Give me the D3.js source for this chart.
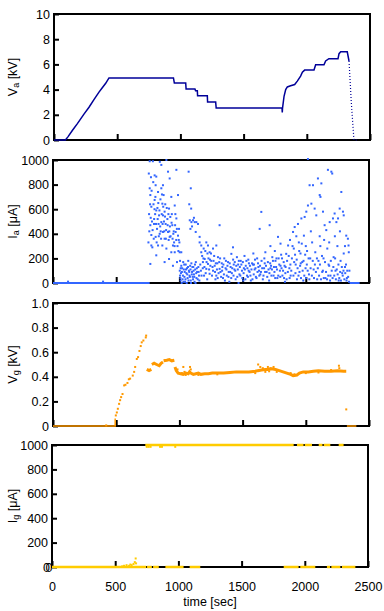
<!DOCTYPE html>
<html>
<head>
<meta charset="utf-8">
<script src="https://cdn.jsdelivr.net/npm/d3@7"></script>
<style>
  body { margin: 0; background: #fff; }
  svg { display: block; font-family: "Liberation Sans", Arial, sans-serif; }
</style>
</head>
<body>
<svg id="chart" width="384" height="611"></svg>
<script>
// time axis shared by all four panels
var timeTicks = [0, 500, 1000, 1500, 2000, 2500];

// panel 1 : anode voltage Va [kV]  (time, kV)
var vaLine = [[0,0],[90,0],[110,0.25],[145,0.75],[185,1.3],[237,2.05],[277,2.6],[316,3.2],[356,3.8],[382,4.15],[409,4.5],[435,4.93],
  [945,4.93],[952,4.53],[1042,4.53],[1045,4.05],[1115,4.05],[1120,3.9],[1134,3.9],[1136,3.52],[1213,3.52],[1215,3.01],[1279,3.01],
  [1283,2.53],[1804,2.53],[1806,2.19],[1808,2.53],[1820,3.47],[1833,4.0],[1846,4.21],[1872,4.3],[1904,4.4],[1925,4.67],[1951,5.07],
  [1965,5.39],[1983,5.55],[2057,5.55],[2070,5.97],[2136,5.97],[2149,6.27],[2175,6.45],[2247,6.45],[2255,6.85],[2268,7.0],[2320,7.0],[2334,6.27]];
var vaDrop = [[2334,6.27],[2352,3.0],[2373,0],[2400,0]];

// panel 2 : anode current Ia [uA]  (time, uA)
var iaBase = [[0,765],[2347,2426]];
var iaPoints = [[119,11],[396,11],
  [765,990],[790,990],[845,985],[897,1000],[765,770],[770,715],[778,620],[783,500],[770,470],[778,390],[778,305],[786,290],[770,155],
  [804,875],[817,865],[812,795],[831,740],[804,675],[817,590],[839,550],[799,480],[823,440],[812,375],[844,400],[831,305],[817,225],
  [857,960],[870,795],[857,770],[875,715],[865,645],[883,580],[870,550],[857,495],[891,480],[870,415],[883,360],[865,305],[897,280],[883,170],
  [910,905],[923,850],[936,700],[918,605],[928,537],[944,470],[910,415],[923,375],[949,305],[936,250],[918,195],[949,140],
  [976,920],[989,715],[963,630],[976,525],[997,440],[970,415],[989,385],[963,250],[1002,250],[981,170],[1015,250],
  [760,560],[762,420],[775,860],[795,640],[800,520],[808,560],[826,610],[835,480],[850,680],[852,420],[860,560],[878,500],[888,640],
  [895,430],[905,520],[915,350],[925,460],[940,560],[952,400],[958,330],[966,470],[985,300],[995,350],[1005,180],[1010,120],
  [755,330],[758,890],[768,640],[773,530],[780,750],[788,430],[793,820],[797,360],[803,600],[810,700],[815,480],[820,330],[828,520],
  [833,650],[837,380],[842,590],[848,460],[855,360],[862,720],[867,480],[872,620],[880,420],[886,540],[893,360],[900,610],[907,470],
  [913,560],[920,420],[930,380],[938,490],[946,360],[955,420],[962,300],[968,560],[975,350],[980,440],[992,260],[1000,330],
  [1005,60],[1010,20],[1015,140],[1020,90],[1025,30],[1030,170],[1035,110],[1040,50],[1045,10],[1050,150],[1055,80],[1060,120],
  [1065,40],[1070,180],[1075,100],[1080,60],[1085,140],[1090,20],[1095,160],[1100,90],[1105,50],[1110,130],[1115,70],[1120,10],
  [1125,110],[1130,170],[1135,40],[1140,90],[1150,130],[1155,60],
  [1003,100],[1008,40],[1012,80],[1018,0],[1022,120],[1028,60],[1032,10],[1038,150],[1042,90],[1048,30],[1052,110],[1058,0],[1062,70],
  [1068,130],[1072,20],[1078,90],[1083,50],[1088,110],[1092,0],[1098,70],[1103,130],[1108,30],[1112,100],[1118,50],[1123,150],[1128,0],
  [1133,80],[1138,120],[1145,30],[1152,90],[1158,20],
  [1073,905],[1078,640],[1090,770],[1093,605],[1082,510],[1095,495],[1108,510],[1121,495],[1134,495],[1147,480],[1087,440],[1129,415],
  [1160,375],[1100,460],[1115,530],
  [1160,330],[1173,305],[1192,280],[1213,330],[1226,305],[1239,250],[1266,280],[1292,305],[1318,470],[1200,195],[1226,155],[1252,180],
  [1279,140],[1305,210],[1173,250],[1186,170],[1213,115],[1239,75],[1266,100],[1292,60],[1318,115],[1180,220],[1205,260],[1230,200],
  [1250,240],[1275,220],[1300,160],[1170,100],[1195,60],[1220,30],[1245,140],[1285,30],[1310,80],
  [1165,150],[1175,60],[1185,120],[1190,200],[1198,130],[1208,80],[1215,170],[1222,240],[1235,110],[1242,190],[1258,60],[1262,130],
  [1270,180],[1282,90],[1288,160],[1297,110],[1303,40],[1315,170],
  [1325,90],[1335,160],[1345,40],[1355,200],[1365,120],[1375,60],[1385,170],[1395,10],[1405,130],[1411,237],[1424,290],[1415,80],
  [1425,190],[1435,110],[1445,30],[1455,210],[1465,150],[1475,70],[1485,180],[1495,100],[1505,20],[1515,220],[1525,140],[1535,60],
  [1545,190],[1555,90],[1565,20],[1575,160],[1585,240],[1595,110],[1605,50],[1615,200],[1625,130],[1635,440],[1640,70],[1648,578],
  [1650,180],[1660,30],[1670,120],[1680,250],[1690,90],[1700,170],[1710,20],[1714,470],[1720,300],[1725,140],[1735,210],[1745,60],
  [1755,260],[1765,130],[1775,40],[1780,375],[1785,200],[1795,100],[1800,320],[1805,230],[1815,60],[1825,170],[1835,10],[1845,237],
  [1340,130],[1390,90],[1430,150],[1470,180],[1510,120],[1550,160],[1590,150],[1630,100],[1675,160],[1720,120],[1760,180],[1800,140],[1840,130],
  [1322,200],[1330,50],[1338,100],[1348,150],[1352,70],[1360,20],[1368,180],[1372,110],[1380,140],[1388,50],[1398,160],[1402,90],
  [1410,40],[1418,120],[1428,60],[1438,170],[1442,100],[1450,140],[1458,50],[1462,110],[1468,0],[1478,130],[1482,60],[1490,150],
  [1498,40],[1502,170],[1508,80],[1518,110],[1522,30],[1530,180],[1538,120],[1542,50],[1548,100],[1558,140],[1562,60],[1570,110],
  [1578,30],[1582,150],[1588,70],[1598,190],[1602,120],[1610,40],[1618,90],[1622,160],[1632,60],[1638,140],[1645,90],[1655,120],
  [1665,60],[1672,200],[1678,90],[1685,140],[1695,50],[1705,110],[1712,80],[1718,160],[1728,60],[1732,110],[1740,180],[1748,130],
  [1752,90],[1758,40],[1768,200],[1772,110],[1782,60],[1790,150],[1798,50],[1808,120],[1812,200],[1820,100],[1828,40],[1832,140],
  [1838,80],[1848,30],
  [1860,305],[1870,120],[1880,60],[1890,200],[1899,415],[1905,280],[1912,455],[1920,150],[1930,30],[1938,480],[1945,330],[1950,90],
  [1958,240],[1965,525],[1972,170],[1980,20],[1985,385],[1991,537],[1998,120],[2004,580],[2010,260],[2017,630],[2017,1008],[2025,70],
  [2030,795],[2035,200],[2044,645],[2050,330],[2057,795],[2062,110],[2070,605],[2075,250],[2083,550],[1875,350],[1925,380],[1960,160],
  [2000,300],[2040,420],
  [1852,180],[1858,90],[1865,220],[1872,40],[1878,150],[1885,100],[1895,300],[1902,60],[1908,170],[1915,230],[1918,80],[1928,190],
  [1935,120],[1942,60],[1948,260],[1955,140],[1962,40],[1968,320],[1975,100],[1982,180],[1988,60],[1995,230],[2002,40],[2008,150],
  [2015,100],[2022,200],[2028,30],[2038,120],[2048,60],[2055,180],[2065,40],[2072,150],[2080,90],
  [2090,30],[2096,850],[2100,180],[2110,715],[2115,300],[2116,700],[2123,810],[2130,90],[2136,580],[2140,200],[2149,470],[2155,40],
  [2162,430],[2170,280],[2175,920],[2180,150],[2189,495],[2195,60],[2202,905],[2209,890],[2215,525],[2220,210],[2228,565],[2235,100],
  [2242,495],[2250,300],[2255,525],[2260,20],[2268,605],[2275,180],[2281,740],[2288,80],[2294,580],[2300,240],[2300,550],[2310,130],
  [2320,385],[2325,40],[2333,360],[2338,305],[2340,250],[2345,100],[2110,380],[2145,350],[2185,330],[2230,380],[2270,420],[2310,300],
  [2088,200],[2095,120],[2105,60],[2112,150],[2120,30],[2128,220],[2135,100],[2142,40],[2152,170],[2160,90],[2168,30],[2178,60],
  [2185,140],[2192,20],[2198,180],[2205,100],[2212,40],[2218,130],[2225,60],[2232,200],[2238,30],[2245,110],[2252,70],[2258,150],
  [2265,40],[2272,90],[2278,20],[2285,130],[2292,60],[2298,100],[2305,30],[2312,80],[2318,150],[2322,20],[2328,100],[2335,50],[2342,10]];

// panel 3 : grid voltage Vg [kV]
var vgZero = [[[0,0],[492,0],[492,0.06]], [[2325,0],[2400,0]]];
var vgRamp = [[421,0.005],[497,0.086],[505,0.11],[513,0.14],[523,0.18],[531,0.21],[539,0.235],[550,0.26],[563,0.33],[573,0.335],
  [589,0.35],[600,0.38],[610,0.385],[631,0.41],[642,0.44],[650,0.48],[663,0.545],[673,0.56],[684,0.61],[694,0.65],[702,0.68],
  [715,0.695],[734,0.72],[737,0.735],[2320,0.135]];
var vgBand = [
  [[742,0.46],[760,0.45],[778,0.46]],
  [[782,0.50],[800,0.51],[820,0.50],[840,0.49],[855,0.51],[870,0.52]],
  [[875,0.53],[900,0.535],[920,0.54],[940,0.53],[960,0.535]],
  [[965,0.48],[975,0.45],[990,0.43],[1010,0.425],[1030,0.42],[1050,0.43],[1070,0.425],[1080,0.44],[1090,0.43],[1110,0.42],[1130,0.425],
   [1150,0.43],[1170,0.42],[1200,0.425],[1230,0.425],[1260,0.43],[1300,0.43],[1350,0.43],[1400,0.435],[1450,0.44],[1500,0.44],[1550,0.44],
   [1600,0.445],[1620,0.45],[1650,0.455],[1680,0.46],[1700,0.46],[1730,0.465],[1760,0.46],[1790,0.45],[1820,0.44],[1850,0.43],[1880,0.42],
   [1900,0.41],[1930,0.415],[1950,0.43],[1980,0.44],[2020,0.44],[2060,0.445],[2100,0.45],[2150,0.445],[2200,0.445],[2250,0.45],[2300,0.445],[2320,0.445]]];
var vgScatter = [[1084,0.48],[1090,0.46],[985,0.46],[1040,0.44],[1031,0.48],[1623,0.50],[1640,0.48],[1660,0.47],[1700,0.48],[1720,0.47],
  [1745,0.48],[1680,0.44],[1710,0.445],[1600,0.43],[1770,0.44],[2262,0.49],[2265,0.47],[1880,0.43],[1910,0.42],[2000,0.43],[2100,0.435],
  [2200,0.455],[1050,0.415],[1150,0.415],[1300,0.42],[1020,0.43]];

// panel 4 : grid current Ig [uA]  (start, end, value)
var igSegments = [[0,745,0],[752,790,0],[800,845,0],[897,1041,0],[1089,1173,0],[1833,1951,0],[1964,2083,0],[2175,2200,0],[2210,2281,0],[2294,2400,0],
  [738,1912,1000],[1938,1990,1000],[2000,2057,1000],[2110,2140,1000],[2150,2202,1000],[2268,2307,1000]];
var igPoints = [[750,985],[765,985],[780,985],[855,985],[870,985],[975,985],
  [555,5],[570,10],[590,15],[610,10],[620,20],[630,15],[645,25],[655,40],[662,70],[665,30]];

var panels = [
  {top: 14,  bottom: 140, left: 54, right: 370, yMax: 10,   ticks: [0,2,4,6,8,10], labels: ["0","2","4","6","8","10"], name: "V", sub: "a", unit: " [kV]"},
  {top: 160, bottom: 283, left: 53, right: 369, yMax: 1000, ticks: [0,200,400,600,800,1000], labels: ["0","200","400","600","800","1000"], name: "I", sub: "a", unit: " [\u03bcA]"},
  {top: 303, bottom: 426, left: 53, right: 369, yMax: 1.0,  ticks: [0,0.2,0.4,0.6,0.8,1.0], labels: ["0","0.2","0.4","0.6","0.8","1.0"], name: "V", sub: "g", unit: " [kV]"},
  {top: 445, bottom: 567, left: 52, right: 368, yMax: 1000, ticks: [0,200,400,600,800,1000], labels: ["00","200","400","600","800","1000"], name: "I", sub: "g", unit: " [\u03bcA]"}
];

var svg = d3.select("#chart");
var font = "'Liberation Sans', Arial, sans-serif";

function drawFrame(p, i) {
  var x = d3.scaleLinear().domain([0, 2500]).range([p.left, p.right]);
  var y = d3.scaleLinear().domain([0, p.yMax]).range([p.bottom, p.top]);
  var g = svg.append("g");

  g.append("rect")
    .attr("x", p.left).attr("y", p.top)
    .attr("width", p.right - p.left).attr("height", p.bottom - p.top)
    .attr("fill", "none").attr("stroke", "#000").attr("stroke-width", 2);

  var ya = g.append("g")
    .attr("transform", "translate(" + p.left + ",0)")
    .call(d3.axisLeft(y).tickValues(p.ticks).tickFormat(function(d, k) { return p.labels[k]; }).tickSize(-5).tickPadding(4));
  ya.attr("font-family", null).attr("font-size", null);
  ya.select(".domain").remove();
  ya.selectAll("line").attr("stroke-width", 2);
  ya.selectAll("text").attr("font-family", font).attr("font-size", 12.5).attr("fill", "#000");
  if (i == 3) ya.selectAll("text").filter(function(d) { return d == 0; }).attr("letter-spacing", "-4.5px");

  var xa = g.append("g")
    .attr("transform", "translate(0," + p.bottom + ")")
    .call(d3.axisBottom(x).tickValues(timeTicks).tickSize(-6).tickPadding(15)
      .tickFormat(i == 3 ? d3.format("d") : function() { return ""; }));
  xa.attr("font-family", null).attr("font-size", null);
  xa.select(".domain").remove();
  xa.selectAll("line").attr("stroke-width", 2);
  xa.selectAll("text").attr("font-family", font).attr("font-size", 12.5).attr("fill", "#000");

  // rotated y label with subscript
  var cy = (p.top + p.bottom) / 2;
  var lab = g.append("text")
    .attr("transform", "translate(17," + cy + ") rotate(-90)")
    .attr("text-anchor", "middle")
    .attr("font-family", font).attr("font-size", 12.5);
  lab.append("tspan").text(p.name);
  lab.append("tspan").attr("font-size", 9).attr("dy", 2).text(p.sub);
  lab.append("tspan").attr("dy", -2).text(p.unit);

  return {x: x, y: y, g: g};
}

var f1 = drawFrame(panels[0], 0);
var f2 = drawFrame(panels[1], 1);
var f3 = drawFrame(panels[2], 2);
var f4 = drawFrame(panels[3], 3);

// Va
var vaColor = "#000099";
f1.g.append("path")
  .attr("d", d3.line().x(function(d) { return f1.x(d[0]); }).y(function(d) { return f1.y(d[1]); })(vaLine))
  .attr("fill", "none").attr("stroke", vaColor).attr("stroke-width", 1.5);
f1.g.append("path")
  .attr("d", d3.line().x(function(d) { return f1.x(d[0]); }).y(function(d) { return f1.y(d[1]); })(vaDrop))
  .attr("fill", "none").attr("stroke", vaColor).attr("stroke-width", 1.2).attr("stroke-dasharray", "1,2");

// Ia
var iaColor = "#3366ff";
f2.g.selectAll(".iabase").data(iaBase).enter().append("line")
  .attr("x1", function(d) { return f2.x(d[0]); }).attr("x2", function(d) { return f2.x(d[1]); })
  .attr("y1", f2.y(0)).attr("y2", f2.y(0))
  .attr("stroke", iaColor).attr("stroke-width", 2);
f2.g.selectAll(".ia").data(iaPoints).enter().append("rect")
  .attr("x", function(d) { return f2.x(d[0]) - 1; })
  .attr("y", function(d) { return f2.y(d[1]) - 1; })
  .attr("width", 2).attr("height", 2)
  .attr("fill", iaColor);

// Vg
var vgColor = "#ff9900";
var vgLine = d3.line().x(function(d) { return f3.x(d[0]); }).y(function(d) { return f3.y(d[1]); });
f3.g.selectAll(".vgzero").data(vgZero).enter().append("path")
  .attr("d", vgLine).attr("fill", "none").attr("stroke", vgColor).attr("stroke-width", 1.5);
f3.g.selectAll(".vgband").data(vgBand).enter().append("path")
  .attr("d", vgLine).attr("fill", "none").attr("stroke", vgColor).attr("stroke-width", 3);
f3.g.selectAll(".vgpt").data(vgRamp.concat(vgScatter)).enter().append("rect")
  .attr("x", function(d) { return f3.x(d[0]) - 1; })
  .attr("y", function(d) { return f3.y(d[1]) - 1; })
  .attr("width", 2).attr("height", 2)
  .attr("fill", vgColor);

// Ig
var igColor = "#ffcc00";
f4.g.selectAll(".igseg").data(igSegments).enter().append("line")
  .attr("x1", function(d) { return f4.x(d[0]); }).attr("x2", function(d) { return f4.x(d[1]); })
  .attr("y1", function(d) { return f4.y(d[2]); }).attr("y2", function(d) { return f4.y(d[2]); })
  .attr("stroke", igColor).attr("stroke-width", 2.5);
f4.g.selectAll(".igpt").data(igPoints).enter().append("rect")
  .attr("x", function(d) { return f4.x(d[0]) - 1; })
  .attr("y", function(d) { return f4.y(d[1]) - 1; })
  .attr("width", 2).attr("height", 2)
  .attr("fill", igColor);

svg.append("text")
  .attr("x", 210).attr("y", 606)
  .attr("text-anchor", "middle")
  .attr("font-family", font).attr("font-size", 12.5)
  .text("time [sec]");
</script>
</body>
</html>
